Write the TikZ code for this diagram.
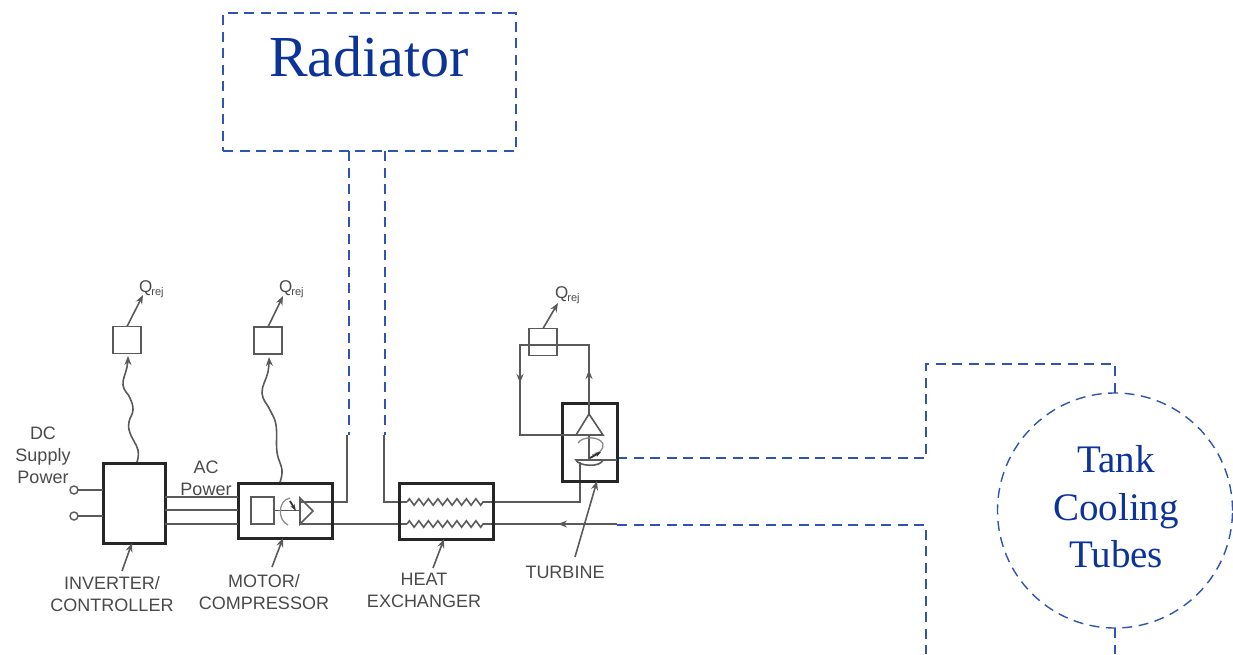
\documentclass[tikz,border=0pt]{standalone}
\usepackage{fontspec}
\setmainfont{Liberation Serif}
\setsansfont{Liberation Sans}
\usetikzlibrary{arrows.meta,decorations.pathmorphing}
\definecolor{dashblue}{HTML}{2F55B0}
\definecolor{titleblue}{HTML}{0B3399}
\definecolor{inkgray}{HTML}{5A5A5A}
\definecolor{labelgray}{HTML}{4A4A4A}
\tikzset{
  x=1pt,y=-1pt,
  blueline/.style={draw=dashblue,line width=1.4pt,dash pattern=on 10pt off 6.5pt},
  thin line/.style={draw=inkgray,line width=1.6pt},
  heavybox/.style={draw=black!85,line width=3pt,inner sep=0pt,outer sep=0pt},
  smallbox/.style={draw=inkgray,line width=1.5pt,inner sep=0pt,outer sep=0pt,minimum width=28pt,minimum height=27pt},
  tipped/.style={-{Stealth[length=9pt,width=7pt]}},
  lab/.style={font=\sffamily\fontsize{18}{22}\selectfont,text=labelgray,align=center,inner sep=0pt},
  qlab/.style={font=\sffamily\fontsize{17}{20}\selectfont,text=labelgray,inner sep=0pt,anchor=west},
  bigtext/.style={font=\fontsize{39}{47.5}\selectfont,text=titleblue,align=center,inner sep=0pt},
}
\newcommand{\qrej}{Q\kern-1pt\raisebox{-3pt}{\fontsize{11}{12}\selectfont rej}}
\begin{document}
\begin{tikzpicture}
\useasboundingbox (0,0) rectangle (1233,654);
\fill[white] (0,0) rectangle (1233,654);

% radiator and tank
\node[blueline,draw,minimum width=293pt,minimum height=138pt,inner sep=0pt,outer sep=0pt] (rad) at (369.5,82) {};
\node[font=\fontsize{58}{60}\selectfont,text=titleblue,inner sep=0pt] (radt) at (369,57) {Radiator};
\node[circle,blueline,draw,minimum size=235pt,inner sep=0pt,outer sep=0pt] (tank) at (1115,510.5) {};
\node[bigtext] (tankt) at (1116,507) {Tank\\Cooling\\Tubes};

% named junctions
\coordinate (r1) at (349,151); \coordinate (r1b) at (349,435);
\coordinate (r2) at (385,151); \coordinate (r2b) at (385,435);
\coordinate (c1) at (347,435); \coordinate (c1b) at (347,502); \coordinate (c1e) at (300,502);
\coordinate (c2) at (384,435); \coordinate (c2b) at (384,502); \coordinate (c2e) at (407,502);
\coordinate (low0) at (300,524); \coordinate (low1) at (407,524);
\coordinate (low2) at (487,524); \coordinate (low3) at (617,524);
\coordinate (hxo) at (487,502); \coordinate (bl) at (580,502);
\coordinate (t1) at (617,458); \coordinate (t2) at (926,458); \coordinate (t3) at (926,364);
\coordinate (t4) at (1115,364);
\coordinate (l2) at (926,525); \coordinate (l3) at (926,654);
\coordinate (tb) at (1115,654);
\coordinate (low3b) at (617,525);

% blue dashed piping
\draw[blueline] (r1) -- (r1b);
\draw[blueline] (r2) -- (r2b);
\draw[blueline] (t1) -- (t2) -- (t3) -- (t4) -- (tank.north);
\draw[blueline] (low3b) -- (l2) -- (l3);
\draw[blueline] (tank.south) -- (tb);

% solid piping
\draw[thin line] (c1) -- (c1b) -- (c1e);
\draw[thin line] (c2) -- (c2b) -- (c2e);
\draw[thin line] (low0) -- (low1);
\draw[thin line] (low2) -- (low3);
\draw[thin line,tipped] (580,524) -- (558,524);
\draw[thin line] (hxo) -- (bl) -- (580,462);
\draw[thin line,decorate,decoration={zigzag,segment length=9.5pt,amplitude=3.2pt}] (c2e) -- (hxo);
\draw[thin line,decorate,decoration={zigzag,segment length=9.5pt,amplitude=3.2pt}] (low1) -- (low2);

% main boxes
\node[heavybox,minimum width=62pt,minimum height=80pt] (inv) at (134,503) {};
\node[heavybox,minimum width=94pt,minimum height=55pt] (mot) at (285,510.5) {};
\node[heavybox,minimum width=94pt,minimum height=56pt] (hx) at (446,511) {};
\node[heavybox,minimum width=55pt,minimum height=78pt] (tur) at (589.5,442) {};
\node[smallbox] (s1) at (127,340) {};
\node[smallbox] (s2) at (268,340.5) {};
\node[smallbox] (s3) at (543,342) {};

% AC and DC lines
\foreach \y in {497,510,524}{
  \draw[thin line] (inv.east |- 0,\y) -- (mot.west |- 0,\y);
}
\node[circle,draw=inkgray,line width=1.4pt,minimum size=8pt,inner sep=0pt,outer sep=0pt] (dc1) at (74,490) {};
\node[circle,draw=inkgray,line width=1.4pt,minimum size=8pt,inner sep=0pt,outer sep=0pt] (dc2) at (74,516) {};
\draw[thin line] (dc1.east) -- (inv.west |- dc1.east);
\draw[thin line] (dc2.east) -- (inv.west |- dc2.east);

% motor/compressor internals
\node[draw=inkgray,line width=1.5pt,minimum width=23pt,minimum height=27pt,inner sep=0pt,outer sep=0pt] (ms) at (262.5,510.5) {};
\coordinate (mt) at (300,510.5);
\draw[thin line] (ms.east) -- (mt);
\draw[thin line] (300,498) -- (313,511) -- (300,524) -- cycle;
\draw[draw=inkgray!70,line width=1.3pt] (290,498) .. controls (278,500) and (277,520) .. (288,525);
\draw[black!80,line width=1.8pt,-{Stealth[length=7pt,width=4.5pt]}] (290,501) -- (296,511);

% turbine internals
\draw[thin line] (589,414) -- (603,435) -- (576,435) -- cycle;
\draw[thin line] (589,435) -- (589,460);
\draw[draw=inkgray!70,line width=1.3pt] (578,443) .. controls (582,436) and (600,436) .. (603,444) .. controls (604,450) and (598,454) .. (592,455);
\draw[black!80,line width=1.8pt,-{Stealth[length=6pt,width=4.5pt]}] (590,458) -- (601,452);
\draw[thin line] (576,460) .. controls (578,466) and (600,468) .. (603,460) -- cycle;
\draw[thin line] (603,460) -- (617,460);

% turbine loop
\coordinate (lp1) at (589,345); \coordinate (lp2) at (520,345); \coordinate (lp3) at (520,435); \coordinate (lp4) at (576,435);
\draw[thin line] (589,414) -- (lp1) -- (lp2) -- (lp3) -- (lp4);
\draw[thin line,tipped] (589,385) -- (589,370);
\draw[thin line,tipped] (520,368) -- (520,383);

% heat waves
\draw[thin line,tipped] plot[smooth,tension=0.7] coordinates {(137,462) (138,450) (130,433) (129,422) (133,410) (130,398) (123,385) (127,367) (128,356)};
\draw[thin line,tipped] plot[smooth,tension=0.7] coordinates {(280,482) (282,470) (277,452) (276,425) (270,410) (262,393) (268,372) (269,357)};

% Qrej
\coordinate (q1) at (143,295); \coordinate (q2) at (283,296); \coordinate (q3) at (558,303);
\draw[thin line,tipped] (s1.north) -- (q1);
\draw[thin line,tipped] (s2.north) -- (q2);
\draw[thin line,tipped] (s3.north) -- (q3);
\node[qlab] (q1t) at (139,289) {\qrej};
\node[qlab] (q2t) at (279,289) {\qrej};
\node[qlab] (q3t) at (555,295) {\qrej};

% labels
\node[lab] (dcl) at (43,455) {DC\\Supply\\Power};
\node[lab] (acl) at (206,478) {AC\\Power};
\node[lab] (invl) at (112,594) {INVERTER/\\CONTROLLER};
\node[lab] (motl) at (264,592) {MOTOR/\\COMPRESSOR};
\node[lab] (hxl) at (424,590) {HEAT\\EXCHANGER};
\node[lab] (turl) at (565,572) {TURBINE};

% leaders
\coordinate (a1) at (122,571); \coordinate (a2) at (272,567); \coordinate (a3) at (433,568); \coordinate (a4) at (575,557);
\draw[thin line,tipped] (a1) -- (inv.south -| 132,0);
\draw[thin line,tipped] (a2) -- (mot.south -| 283,0);
\draw[thin line,tipped] (a3) -- (hx.south -| 444,0);
\draw[thin line,tipped] (a4) -- (tur.south -| 597,0);
\end{tikzpicture}
\end{document}
